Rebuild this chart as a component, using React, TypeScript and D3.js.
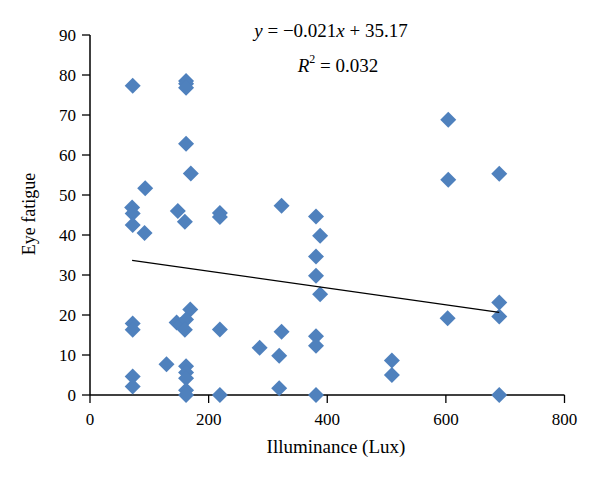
import React from "react";
import * as d3 from "d3";

const illuminance = [
  72, 162, 162, 162, 162, 170, 93, 71, 72, 148, 219, 219, 72, 92, 160,
  72, 72, 169, 146, 153, 162, 160, 219, 286, 129, 162, 162, 162, 72, 72,
  162, 162, 219, 604, 604, 690, 323, 381, 388, 381, 381, 388, 603, 690,
  690, 323, 319, 319, 381, 381, 381, 509, 509, 690,
];
const eyeFatigue = [
  77.3, 78.5, 77.8, 76.8, 62.8, 55.4, 51.7, 46.9, 45.4, 46, 45.5, 44.5, 42.5, 40.5, 43.3,
  17.9, 16.3, 21.4, 18.1, 17.5, 18.9, 16.3, 16.4, 11.8, 7.7, 7.2, 5.6, 4.2, 4.6, 2.1,
  1.2, 0, 0, 68.8, 53.8, 55.3, 47.3, 44.6, 39.8, 34.6, 29.8, 25.2, 19.2, 23.1,
  19.6, 15.8, 9.8, 1.7, 14.7, 12.3, 0, 8.6, 5, 0,
];
const xTicks = [0, 200, 400, 600, 800];
const yTicks = [0, 10, 20, 30, 40, 50, 60, 70, 80, 90];
const slope = -0.021;
const intercept = 35.17;
const rSquared = "0.032";

const W = 600;
const H = 481;
const left = 90;
const right = 564.5;
const top = 35;
const bottom = 395;
const FONT = "'Liberation Serif', 'DejaVu Serif', serif";
const BLUE = "#4F81BD";

export default function App() {
  const x = d3.scaleLinear().domain([0, 800]).range([left, right]);
  const y = d3.scaleLinear().domain([0, 90]).range([bottom, top]);
  const pts = illuminance.map((v, i) => ({ x: v, y: eyeFatigue[i] }));
  const [xmin, xmax] = d3.extent(illuminance) as [number, number];
  const d = 8;
  const diamondPath = `M0,${-d}L${d},0L0,${d}L${-d},0Z`;

  return (
    <svg
      width={W}
      height={H}
      style={{ position: "absolute", left: 0, top: 0, background: "#fff" }}
      fontFamily={FONT}
    >
      <rect width={W} height={H} fill="#fff" />
      <line x1={left} x2={left} y1={top} y2={bottom} stroke="#000" strokeWidth={1.5} />
      <line x1={left} x2={right} y1={bottom} y2={bottom} stroke="#000" strokeWidth={1.5} />
      {yTicks.map((t) => (
        <g key={"y" + t}>
          <line x1={left - 8} x2={left} y1={y(t)} y2={y(t)} stroke="#000" strokeWidth={1.3} />
          <text x={left - 14} y={y(t)} dy="0.35em" textAnchor="end" fontSize={17}>
            {t}
          </text>
        </g>
      ))}
      {xTicks.map((t) => (
        <g key={"x" + t}>
          <line x1={x(t)} x2={x(t)} y1={bottom} y2={bottom + 8} stroke="#000" strokeWidth={1.3} />
          <text x={x(t)} y={425} textAnchor="middle" fontSize={17}>
            {t}
          </text>
        </g>
      ))}
      <text x={336} y={453} textAnchor="middle" fontSize={19}>
        Illuminance (Lux)
      </text>
      <text transform={`translate(35,214) rotate(-90)`} textAnchor="middle" fontSize={18}>
        Eye fatigue
      </text>
      {pts.map((p, i) => (
        <path key={i} d={diamondPath} transform={`translate(${x(p.x)},${y(p.y)})`} fill={BLUE} />
      ))}
      <line
        x1={x(xmin)}
        y1={y(slope * xmin + intercept)}
        x2={x(xmax)}
        y2={y(slope * xmax + intercept)}
        stroke="#000"
        strokeWidth={1.3}
      />
      <text x={331} y={37} textAnchor="middle" fontSize={19}>
        <tspan fontStyle="italic">y</tspan>
        {" = \u2212" + Math.abs(slope).toFixed(3)}
        <tspan fontStyle="italic">x</tspan>
        {" + " + intercept.toFixed(2)}
      </text>
      <text x={338} y={72} textAnchor="middle" fontSize={19}>
        <tspan fontStyle="italic">R</tspan>
        <tspan fontSize={12} dy={-9}>2</tspan>
        <tspan dy={9}>{" = " + rSquared}</tspan>
      </text>
    </svg>
  );
}
